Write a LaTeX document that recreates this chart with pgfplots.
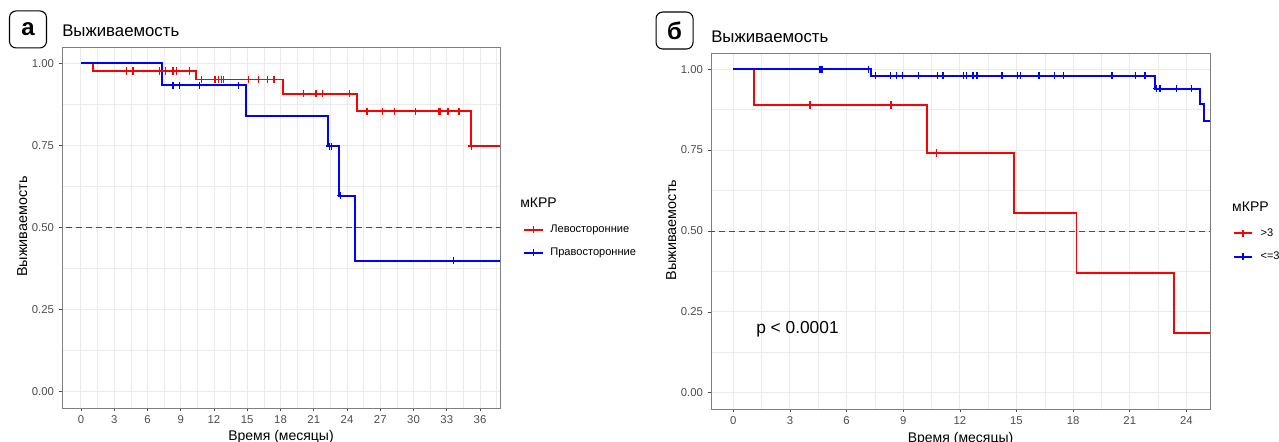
\documentclass[border=0pt]{standalone}
\usepackage{fontspec}
\setmainfont{Liberation Sans}
\usepackage{pgfplots}
\pgfplotsset{compat=1.18}
\definecolor{tickgray}{HTML}{4D4D4D}
\definecolor{gridgray}{HTML}{EBEBEB}
\definecolor{framegray}{HTML}{7F7F7F}
\pgfplotsset{
 km/.style={
  scale only axis,
  clip mode=individual,
  axis line style={draw=framegray, line width=0.6pt},
  tick align=outside,
  tick pos=left,
  major tick length=2.5pt,
  minor tick length=0pt,
  tick style={tickgray, line width=0.5pt},
  xmajorgrids, ymajorgrids, xminorgrids, yminorgrids,
  major grid style={gridgray, line width=0.7pt},
  minor grid style={gridgray, line width=0.4pt},
  ymin=-0.05, ymax=1.05,
  ytick={0,0.25,0.5,0.75,1},
  yticklabels={0.00,0.25,0.50,0.75,1.00},
  minor ytick={0.125,0.375,0.625,0.875},
  ticklabel style={font=\fontsize{8.5}{10}\selectfont, text=tickgray},
  /pgf/number format/assume math mode=true,
  legend cell align=left,
  legend style={draw=none, fill=none, inner sep=0pt, font=\fontsize{8.3}{10}\selectfont, anchor=north west, row sep=6pt, column sep=3pt},
 },
 cens/.style={only marks, mark=+, mark size=2.7pt, line width=1pt},
 curve/.style={const plot, line width=1.4pt},
 half/.style={tickgray, line width=0.6pt, dash pattern=on 4.5pt off 3pt},
}
\begin{document}
\begin{tikzpicture}
\useasboundingbox (0,0) rectangle (959.25pt,331.5pt);
% ---------------- panel a ----------------
\begin{axis}[km, at={(46.5pt,25.5pt)}, anchor=south west,
  width=328.5pt, height=270.75pt,
  xmin=-1.71, xmax=37.8,
  xtick={0,3,...,36},
  minor xtick={1.5,4.5,...,37.5},
  legend image code/.code={\draw[#1, line width=1.5pt] (0pt,0pt) -- (14pt,0pt); \draw[#1, line width=1pt] (7pt,-2.7pt) -- (7pt,2.7pt) (4.3pt,0pt) -- (9.7pt,0pt);},
  legend style={at={(1.052,0.515)}}]
\addplot[half, forget plot] coordinates {(-5,0.5) (50,0.5)};
\addplot[curve, red, forget plot] coordinates {(0,1) (1.05,0.977) (10.35,0.951) (18.2,0.908) (24.9,0.854) (35.2,0.748) (37.8,0.748)};
\addplot[curve, blue, forget plot] coordinates {(0,1) (7.3,0.933) (14.9,0.84) (22.3,0.748) (23.3,0.597) (24.7,0.399) (37.8,0.399)};
\addplot[cens, red, forget plot] coordinates {
 (4.1,0.977) (4.7,0.977) (7.1,0.977) (7.6,0.977) (8.3,0.977) (8.6,0.977) (9.8,0.977)
 (10.9,0.951) (12.1,0.951) (12.4,0.951) (12.7,0.951) (12.85,0.951) (15.1,0.951) (16.0,0.951) (16.8,0.951) (17.4,0.951)
 (20.1,0.908) (21.2,0.908) (21.8,0.908) (24.2,0.908)
 (25.8,0.854) (27.2,0.854) (28.3,0.854) (30.2,0.854) (32.3,0.854) (32.4,0.854) (33.1,0.854) (34.1,0.854)
 (35.2,0.748)};
\addplot[cens, blue, forget plot] coordinates {
 (8.3,0.933) (8.9,0.933) (10.7,0.933) (14.2,0.933)
 (22.4,0.748) (22.6,0.748) (23.4,0.597) (33.6,0.399)};
\addlegendimage{red}
\addlegendentry{Левосторонние}
\addlegendimage{blue}
\addlegendentry{Правосторонние}
\node[anchor=west, font=\fontsize{10.5}{12}\selectfont, inner sep=0pt] at (axis description cs:1.0457,0.568) {мКРР};
\end{axis}
% ---------------- panel b ----------------
\begin{axis}[km, at={(533.25pt,24.75pt)}, anchor=south west,
  width=374.25pt, height=267pt,
  xmin=-1.18, xmax=25.25,
  xtick={0,3,...,24},
  minor xtick={1.5,4.5,...,25.5},
  legend image code/.code={\draw[#1, line width=1.5pt] (0pt,0pt) -- (13pt,0pt); \draw[#1, line width=1pt] (6.5pt,-2.7pt) -- (6.5pt,2.7pt) (3.8pt,0pt) -- (9.2pt,0pt);},
  legend style={at={(1.046,0.515)}, column sep=4pt}]
\addplot[half, forget plot] coordinates {(-5,0.5) (50,0.5)};
\addplot[curve, red, forget plot] coordinates {(0,1) (1.11,0.889) (10.27,0.741) (14.85,0.556) (18.18,0.37) (23.35,0.185) (25.25,0.185)};
\addplot[curve, blue, forget plot] coordinates {(0,1) (7.3,0.98) (22.32,0.94) (24.74,0.892) (24.92,0.841) (25.25,0.841)};
\addplot[cens, red, forget plot] coordinates {(4.06,0.889) (8.35,0.889) (10.77,0.741)};
\addplot[cens, blue, forget plot] coordinates {
 (4.6,1) (4.7,1) (7.15,1)
 (7.55,0.98) (8.33,0.98) (8.65,0.98) (8.95,0.98) (9.8,0.98) (10.8,0.98) (11.1,0.98) (12.2,0.98) (12.35,0.98) (12.7,0.98) (12.9,0.98)
 (14.24,0.98) (15.05,0.98) (15.2,0.98) (16.15,0.98) (16.2,0.98) (17.0,0.98) (17.5,0.98) (20.06,0.98) (21.3,0.98) (21.8,0.98)
 (22.4,0.94) (22.6,0.94) (23.47,0.94) (24.27,0.94)};
\addlegendimage{red}
\addlegendentry{>3}
\addlegendimage{blue}
\addlegendentry{<=3}
\node[anchor=west, font=\fontsize{10.5}{12}\selectfont, inner sep=0pt] at (axis description cs:1.044,0.567) {мКРР};
\node[font=\fontsize{13}{15}\selectfont] at (axis cs:3.4,0.195) {p < 0.0001};
\end{axis}
% ---------------- titles and labels ----------------
\node[anchor=base west, font=\fontsize{12.6}{14}\selectfont, inner sep=0pt] at (46.5pt,303.75pt) {Выживаемость};
\node[anchor=base west, font=\fontsize{12.6}{14}\selectfont, inner sep=0pt] at (533.25pt,299.25pt) {Выживаемость};
\node[draw=black, line width=0.8pt, rounded corners=5pt, minimum width=27.75pt, minimum height=27.75pt, font=\fontsize{18}{20}\selectfont\bfseries] at (21pt,309.4pt) {а};
\node[draw=black, line width=0.8pt, rounded corners=5pt, minimum width=27.75pt, minimum height=27.75pt, font=\fontsize{18}{20}\selectfont\bfseries] at (505.9pt,308.6pt) {б};
\node[rotate=90, font=\fontsize{10.8}{12}\selectfont] at (16.6pt,161.5pt) {Выживаемость};
\node[rotate=90, font=\fontsize{10.8}{12}\selectfont] at (503.5pt,159pt) {Выживаемость};
\node[anchor=base, font=\fontsize{10.5}{12}\selectfont, inner sep=0pt] at (210.75pt,1.2pt) {Время (месяцы)};
\node[anchor=base, font=\fontsize{10.5}{12}\selectfont, inner sep=0pt] at (720.4pt,-0.6pt) {Время (месяцы)};
\end{tikzpicture}
\end{document}
